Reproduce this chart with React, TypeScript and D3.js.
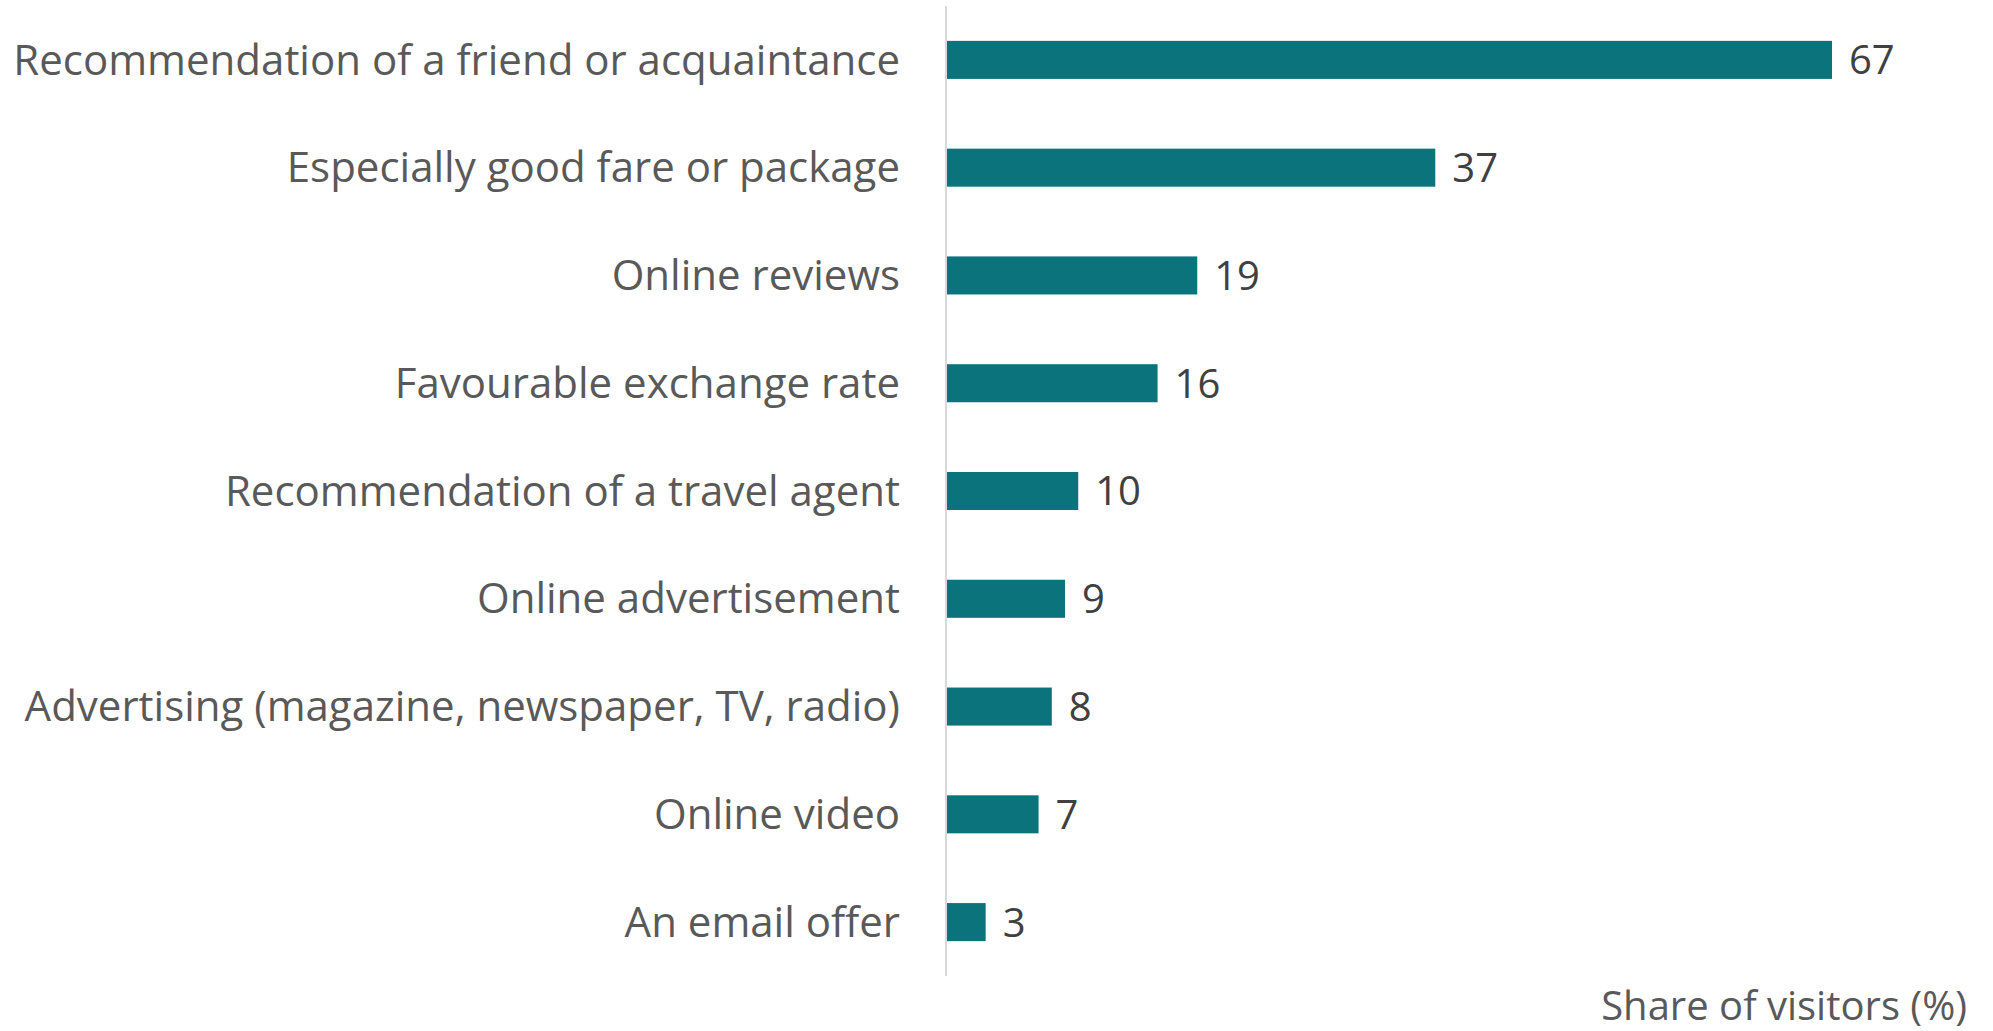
import { useRef, useEffect } from "react";
import * as d3 from "d3";

const categories = [
  "Recommendation of a friend or acquaintance",
  "Especially good fare or package",
  "Online reviews",
  "Favourable exchange rate",
  "Recommendation of a travel agent",
  "Online advertisement",
  "Advertising (magazine, newspaper, TV, radio)",
  "Online video",
  "An email offer",
];
const shares = [67, 37, 19, 16, 10, 9, 8, 7, 3];
const axisTitle = "Share of visitors (%)";

const WIDTH = 1993;
const HEIGHT = 1031;
const FONT = "'Open Sans', 'Noto Sans', sans-serif";

const App = () => {
  const svgRef = useRef<SVGSVGElement>(null);

  useEffect(() => {
    const svg = d3.select(svgRef.current);
    svg.selectAll("*").remove();

    const data = categories.map((c, i) => ({ label: c, value: shares[i] }));

    const x0 = 946;
    const yScale = d3
      .scaleBand()
      .domain(categories)
      .range([6, 976])
      .paddingInner(0.647)
      .paddingOuter(0.3235);

    const xScale = d3.scaleLinear().domain([0, 67]).range([x0, 1832]);

    // bars
    svg
      .selectAll(".bar")
      .data(data)
      .enter()
      .append("rect")
      .attr("class", "bar")
      .attr("x", xScale(0))
      .attr("y", (d) => yScale(d.label)!)
      .attr("width", (d) => xScale(d.value) - xScale(0))
      .attr("height", yScale.bandwidth())
      .attr("fill", "#0B737B");

    // vertical axis line
    svg
      .append("line")
      .attr("x1", x0)
      .attr("x2", x0)
      .attr("y1", 6)
      .attr("y2", 976)
      .attr("stroke", "#D9D9D9")
      .attr("stroke-width", 2);

    // category labels
    svg
      .selectAll(".cat")
      .data(data)
      .enter()
      .append("text")
      .attr("class", "cat")
      .attr("x", 900)
      .attr("y", (d) => yScale(d.label)! + yScale.bandwidth() / 2)
      .attr("dy", "0.35em")
      .attr("text-anchor", "end")
      .style("font-family", FONT)
      .style("font-size", "42px")
      .style("fill", "#595959")
      .text((d) => d.label);

    // value labels
    svg
      .selectAll(".val")
      .data(data)
      .enter()
      .append("text")
      .attr("class", "val")
      .attr("x", (d) => xScale(d.value) + 17)
      .attr("y", (d) => yScale(d.label)! + yScale.bandwidth() / 2)
      .attr("dy", "0.36em")
      .style("font-family", FONT)
      .style("font-size", "40px")
      .style("fill", "#404040")
      .text((d) => String(d.value));

    // axis title
    svg
      .append("text")
      .attr("x", 1967)
      .attr("y", 1020)
      .attr("text-anchor", "end")
      .style("font-family", FONT)
      .style("font-size", "40px")
      .style("fill", "#595959")
      .text(axisTitle);
  }, []);

  return (
    <div style={{ position: "absolute", left: 0, top: 0 }}>
      <svg ref={svgRef} width={WIDTH} height={HEIGHT} style={{ display: "block", background: "#fff" }}></svg>
    </div>
  );
};

export default App;
